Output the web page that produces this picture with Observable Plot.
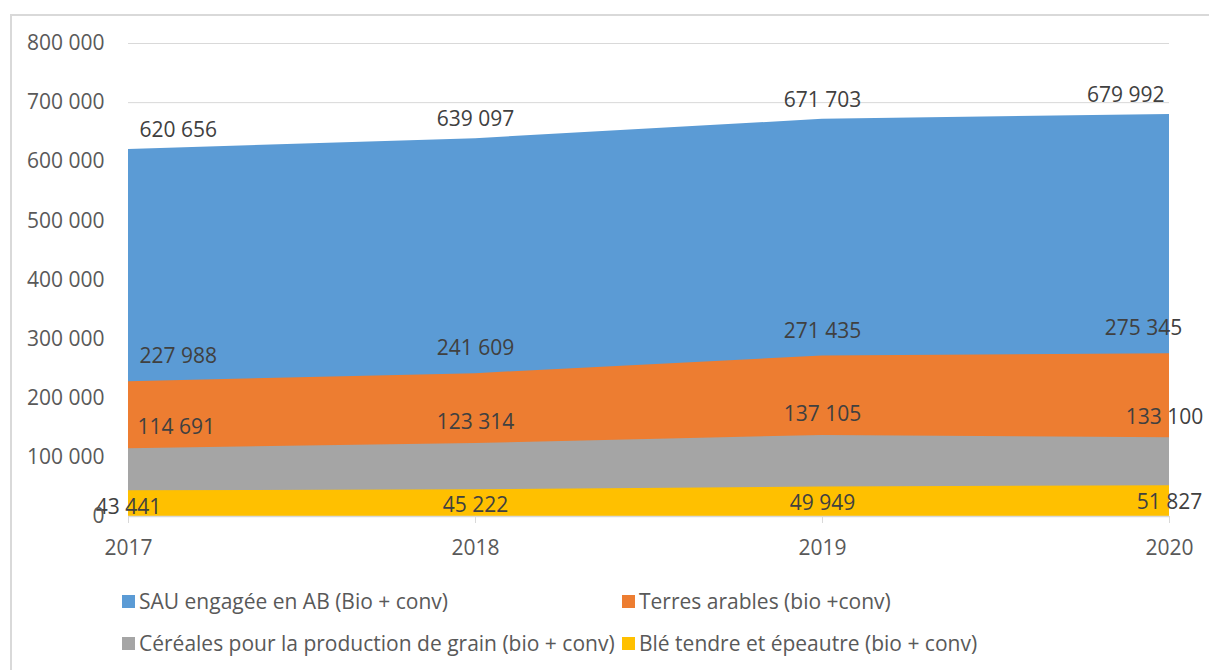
<!DOCTYPE html>
<html>
<head>
<meta charset="utf-8">
<script src="https://cdn.jsdelivr.net/npm/d3@7"></script>
<script src="https://cdn.jsdelivr.net/npm/@observablehq/plot@0.6"></script>
<style>
  html, body { margin: 0; padding: 0; background: #fff; }
  body { width: 1209px; height: 670px; overflow: hidden; position: relative; font-family: "Open Sans", sans-serif; }
  #frame { position: absolute; left: 10px; top: 14px; width: 1300px; height: 800px; border-left: 2px solid #d9d9d9; border-top: 2px solid #d9d9d9; box-sizing: border-box; pointer-events: none; }
  #chart { position: absolute; left: 0; top: 0; }
  #legend { position: absolute; left: 0; top: 570px; width: 1209px; height: 100px; color: #595959; font-size: 21px; }
  .item { position: absolute; display: flex; align-items: center; white-space: nowrap; }
  .sw { width: 13px; height: 13px; margin-right: 4px; flex: none; }
</style>
</head>
<body>
<div id="frame"></div>
<div id="chart"></div>
<div id="legend"></div>
<script>
const years = [2017, 2018, 2019, 2020];
const sau = [620656, 639097, 671703, 679992];
const terres = [227988, 241609, 271435, 275345];
const cereales = [114691, 123314, 137105, 133100];
const ble = [43441, 45222, 49949, 51827];
const seriesNames = [
  "SAU engagée en AB (Bio + conv)",
  "Terres arables (bio +conv)",
  "Céréales pour la production de grain (bio + conv)",
  "Blé tendre et épeautre (bio + conv)"
];
const yTicks = [0, 100000, 200000, 300000, 400000, 500000, 600000, 700000, 800000];

const colors = ["#5B9BD5", "#ED7D31", "#A5A5A5", "#FFC000"];
const valuesList = [sau, terres, cereales, ble];
// label styling per series (offsets relative to the data point)
const labelStyle = [
  {dy: -19, first: {anchor: "start", dx: 11}, last: {anchor: "end", dx: -5}},
  {dy: -25, first: {anchor: "start", dx: 11}, last: {anchor: "middle", dx: -26}},
  {dy: -21, first: {anchor: "start", dx: 9}, last: {anchor: "middle", dx: -5}},
  {dy: 16, first: {anchor: "middle", dx: 0}, last: {anchor: "middle", dx: 0}}
];

const fmt = v => d3.format(",")(v).replace(/,/g, " ");

const rows = valuesList.map((vals, s) => years.map((yr, i) => ({series: seriesNames[s], s, i, year: yr, value: vals[i]})));

const marks = [];
marks.push(Plot.ruleY(yTicks.filter(d => d > 0), {stroke: "#d9d9d9", strokeWidth: 1}));
rows.forEach((data, s) => {
  marks.push(Plot.areaY(data, {x: "year", y: "value", fill: colors[s], fillOpacity: 1}));
});
marks.push(Plot.ruleY([0], {stroke: "#d9d9d9", strokeWidth: 1.5}));
rows.forEach((data, s) => {
  const st = labelStyle[s];
  const n = data.length;
  marks.push(Plot.text(data.filter(d => d.i === 0), {x: "year", y: "value", text: d => fmt(d.value), dy: st.dy, dx: st.first.dx, textAnchor: st.first.anchor, fill: "#404040", fontSize: 21}));
  marks.push(Plot.text(data.filter(d => d.i > 0 && d.i < n - 1), {x: "year", y: "value", text: d => fmt(d.value), dy: st.dy, textAnchor: "middle", fill: "#404040", fontSize: 21}));
  marks.push(Plot.text(data.filter(d => d.i === n - 1), {x: "year", y: "value", text: d => fmt(d.value), dy: st.dy, dx: st.last.dx, textAnchor: st.last.anchor, fill: "#404040", fontSize: 21}));
});
marks.push(Plot.axisY({ticks: yTicks, tickFormat: fmt, tickSize: 0, tickPadding: 24, fontSize: 21, fill: "#595959", label: null}));
marks.push(Plot.axisX({ticks: years, tickFormat: d => String(d), tickSize: 7, stroke: "#d9d9d9", tickPadding: 17, fontSize: 21, fill: "#595959", label: null}));

const chart = Plot.plot({
  width: 1209,
  height: 570,
  marginLeft: 128,
  marginRight: 40,
  marginTop: 43,
  marginBottom: 54,
  style: {fontFamily: "'Open Sans', sans-serif", background: "transparent", overflow: "visible"},
  x: {domain: [2017, 2020], label: null},
  y: {domain: [0, 800000], label: null},
  marks
});
document.getElementById("chart").appendChild(chart);

const legend = document.getElementById("legend");
const positions = [[122, 31], [622, 31], [122, 73], [622, 73]];
seriesNames.forEach((name, s) => {
  const it = document.createElement("div");
  it.className = "item";
  it.style.left = positions[s][0] + "px";
  it.style.top = (positions[s][1] - 15) + "px";
  it.style.height = "30px";
  const sw = document.createElement("span");
  sw.className = "sw";
  sw.style.background = colors[s];
  const tx = document.createElement("span");
  tx.textContent = name;
  it.appendChild(sw);
  it.appendChild(tx);
  legend.appendChild(it);
});
</script>
</body>
</html>
